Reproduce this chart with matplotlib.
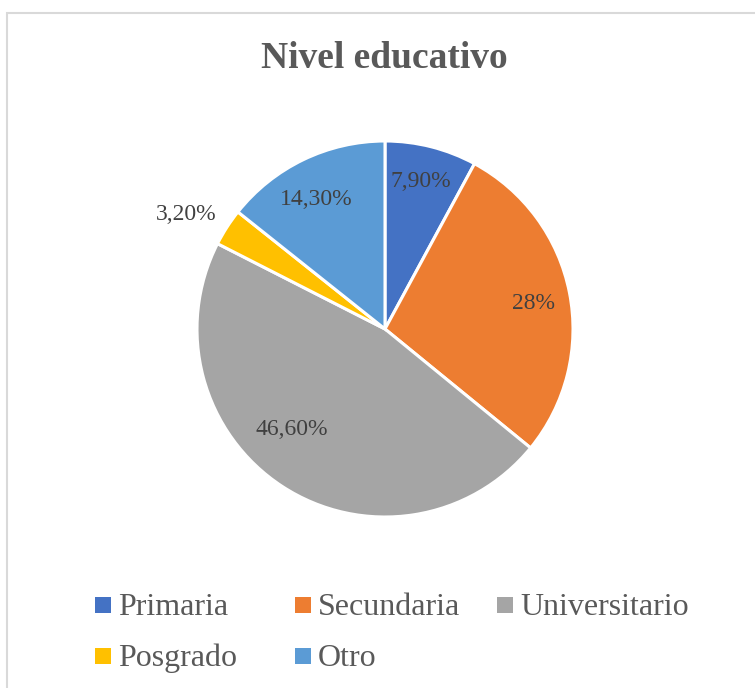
import numpy as np
import matplotlib
matplotlib.use("Agg")
import matplotlib.pyplot as plt
from matplotlib.patches import Rectangle

categories = ["Primaria", "Secundaria", "Universitario", "Posgrado", "Otro"]
values = [7.9, 28.0, 46.6, 3.2, 14.3]
label_texts = ["7,90%", "28%", "46,60%", "3,20%", "14,30%"]
colors = ["#4472C4", "#ED7D31", "#A5A5A5", "#FFC000", "#5B9BD5"]
title = "Nivel educativo"

# label placement (layout): radial distance and angular nudge (deg)
label_dist = [0.81, 0.80, 0.73, 1.22, 0.78]
label_nudge = [0.6, -1.5, -9.8, 2.7, 2.1]

plt.rcParams['font.family'] = ['Liberation Serif', 'DejaVu Serif']

W, H = 755, 688
fig = plt.figure(figsize=(W / 100, H / 100), dpi=100)
fig.patch.set_facecolor("white")

# border
bx, by = 6.5, 12.5
fig.add_artist(Rectangle((bx / W, -0.2), 1.3, 1.2 - by / H, transform=fig.transFigure,
                         fill=False, edgecolor="#D9D9D9", linewidth=1.5, clip_on=False))

cx, cy, R = 385, 329, 188
half = 200
ax = fig.add_axes([(cx - half) / W, (H - cy - half) / H, 2 * half / W, 2 * half / H])

wedges, _ = ax.pie(values, colors=colors, startangle=90, counterclock=False,
                   radius=1.0, wedgeprops=dict(edgecolor="white", linewidth=2.2))
lim = half / R
ax.set_xlim(-lim, lim)
ax.set_ylim(-lim, lim)
ax.set_aspect("equal")
ax.axis("off")

for w, txt, d, nd in zip(wedges, label_texts, label_dist, label_nudge):
    ang = np.deg2rad((w.theta1 + w.theta2) / 2 + nd)
    ax.text(d * np.cos(ang), d * np.sin(ang), txt, ha="center", va="center",
            fontsize=17, color="#404040", clip_on=False)

fig.text(384.5 / W, 1 - 68 / H, title, ha="center", va="baseline",
         fontsize=27, fontweight="bold", color="#595959")

# legend (manual layout)
sq = 16
pos = [(95, 605), (295, 605), (497, 605), (95, 656), (295, 656)]
for (x, y), c, name in zip(pos, colors, categories):
    fig.add_artist(Rectangle((x / W, 1 - (y + sq / 2) / H), sq / W, sq / H,
                             transform=fig.transFigure, facecolor=c, edgecolor="none"))
    fig.text((x + 23) / W, 1 - (y + 10) / H, name, ha="left", va="baseline",
             fontsize=23, color="#595959")

fig.savefig("out.png", dpi=100, facecolor="white")
